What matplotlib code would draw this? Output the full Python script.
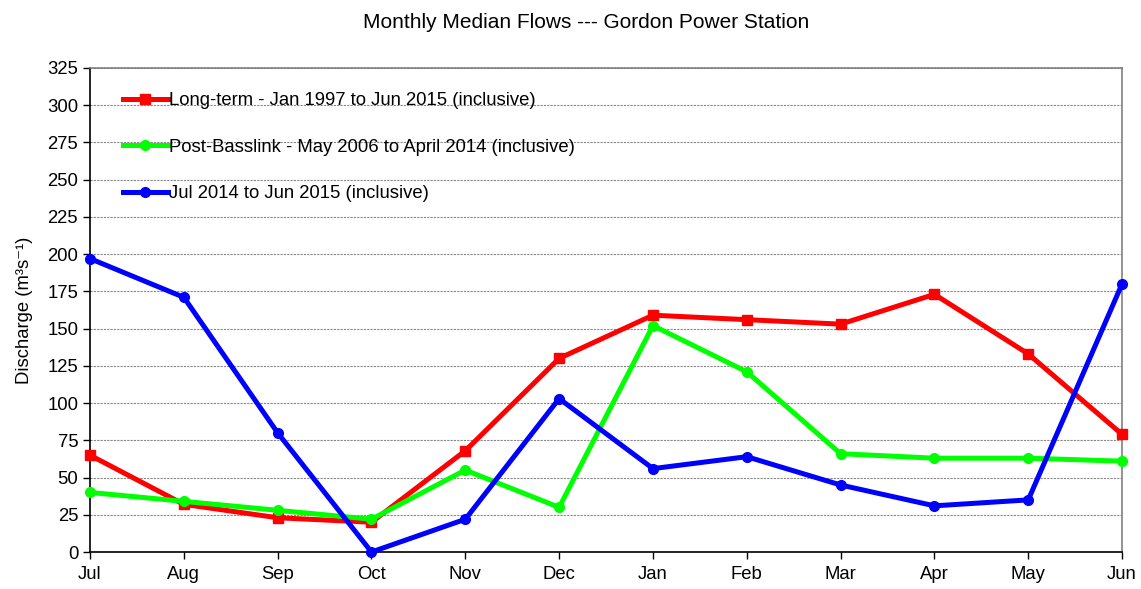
import matplotlib
matplotlib.use("Agg")
import matplotlib.pyplot as plt

plt.rcParams["font.family"] = ["Liberation Sans", "DejaVu Sans"]

months = ["Jul", "Aug", "Sep", "Oct", "Nov", "Dec",
          "Jan", "Feb", "Mar", "Apr", "May", "Jun"]
long_term = [65, 32, 23, 20, 68, 130, 159, 156, 153, 173, 133, 79]
post_basslink = [40, 34, 28, 22, 55, 30, 152, 121, 66, 63, 63, 61]
recent = [197, 171, 80, 0, 22, 103, 56, 64, 45, 31, 35, 180]

labels = [
    "Long-term - Jan 1997 to Jun 2015 (inclusive)",
    "Post-Basslink - May 2006 to April 2014 (inclusive)",
    "Jul 2014 to Jun 2015 (inclusive)",
]

fig = plt.figure(figsize=(11.41, 5.89), dpi=100)
ax = fig.add_axes([0.0789, 0.0628, 0.9045, 0.8218])

x = range(len(months))
ax.plot(x, long_term, color="#ff0000", lw=3.6, marker="s", ms=7,
        label=labels[0], clip_on=False, zorder=3)
ax.plot(x, post_basslink, color="#00ff00", lw=3.6, marker="o", ms=7,
        label=labels[1], clip_on=False, zorder=3)
ax.plot(x, recent, color="#0000ff", lw=3.6, marker="o", ms=7,
        label=labels[2], clip_on=False, zorder=4)

ax.set_xlim(0, len(months) - 1)
ax.set_ylim(0, 325)
ax.set_xticks(list(x))
ax.set_xticklabels(months)
ax.set_yticks(range(0, 326, 25))
ax.tick_params(labelsize=13.3, direction="out", length=5, width=1)
ax.tick_params(axis="x", pad=5)

ax.grid(axis="y", color="#888888", linestyle=(0, (2, 1)), linewidth=0.8)
ax.set_axisbelow(True)

ax.spines["left"].set_color("black")
ax.spines["bottom"].set_color("black")
ax.spines["top"].set_color("#808080")
ax.spines["right"].set_color("#808080")
for s in ax.spines.values():
    s.set_linewidth(1.2)

ax.set_ylabel("Discharge (m³s⁻¹)", fontsize=13.3, labelpad=10)
fig.text(0.5136, 0.962, "Monthly Median Flows --- Gordon Power Station",
         fontsize=15, ha="center", va="center")

ax.legend(loc="upper left", bbox_to_anchor=(0.025, 0.965), frameon=False,
          fontsize=13.3, handlelength=2.4, handletextpad=0.1,
          labelspacing=1.6, borderaxespad=0)

fig.savefig("out.png", dpi=100)
